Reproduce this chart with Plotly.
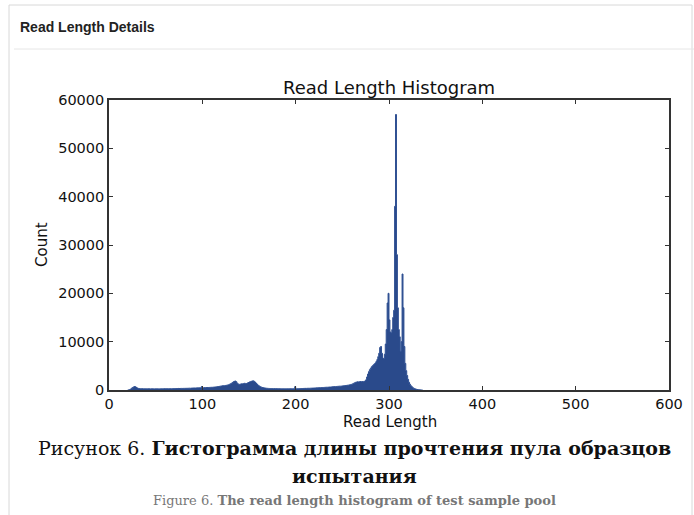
import plotly.graph_objects as go

# ---- data ----
length_start = 20  # first bin (read length) shown, bins of width 1
counts_020_099 = [
    0, 40, 110, 220, 380, 520, 640, 720, 660, 520,
    400, 330, 300, 280, 270, 290, 260, 250, 270, 260,
    250, 240, 260, 250, 230, 240, 250, 240, 230, 250,
    240, 260, 250, 230, 240, 250, 260, 240, 250, 270,
    260, 270, 280, 260, 270, 290, 280, 270, 290, 300,
    290, 300, 310, 300, 320, 310, 320, 330, 320, 340,
    330, 350, 340, 360, 350, 370, 380, 360, 390, 400,
    410, 420, 400, 430, 450, 440, 460, 480, 470, 720,
]
counts_100_199 = [
    480, 470, 500, 490, 510, 520, 500, 530, 540, 560,
    550, 580, 600, 620, 640, 660, 700, 720, 760, 800,
    820, 860, 900, 880, 920, 960, 1000, 1050, 1100, 1200,
    1300, 1400, 1550, 1700, 1800, 1850, 1700, 1400, 1250, 1150,
    1200, 1250, 1300, 1250, 1350, 1400, 1300, 1350, 1450, 1550,
    1650, 1700, 1800, 1850, 1900, 1800, 1650, 1450, 1250, 1050,
    900, 760, 650, 580, 520, 470, 430, 400, 370, 350,
    330, 320, 300, 310, 290, 300, 280, 290, 270, 280,
    270, 260, 280, 270, 260, 250, 270, 260, 250, 260,
    250, 260, 240, 250, 260, 250, 240, 260, 250, 700,
]
counts_200_279 = [
    280, 270, 290, 280, 300, 290, 310, 300, 320, 330,
    340, 330, 350, 360, 350, 370, 380, 390, 400, 410,
    420, 430, 450, 440, 460, 480, 470, 500, 520, 510,
    530, 550, 560, 580, 570, 600, 620, 610, 640, 660,
    680, 700, 690, 720, 740, 760, 780, 800, 790, 820,
    850, 880, 900, 920, 950, 980, 1000, 1050, 1100, 1150,
    1200, 1300, 1400, 1500, 1600, 1650, 1700, 1650, 1700, 1750,
    1700, 1750, 1700, 1800, 1850, 2100, 2700, 3300, 3800, 4200,
]
counts_280_335 = [
    4500, 4800, 5000, 5200, 5400, 5600, 5900, 6300, 6900, 7600,
    8800, 9000, 7600, 6600, 6400, 7400, 9500, 12500, 18000, 20000,
    14500, 12000, 11800, 12500, 15000, 16500, 38000, 57000, 28000, 17000,
    12500, 11000, 8000, 10000, 24000, 17000, 9000, 5500, 4000, 3000,
    2200, 1600, 1200, 900, 700, 500, 380, 280, 200, 150,
    100, 70, 50, 30, 15, 5,
]
x_ticks = [0, 100, 200, 300, 400, 500, 600]
y_ticks = [0, 10000, 20000, 30000, 40000, 50000, 60000]

counts = counts_020_099 + counts_100_199 + counts_200_279 + counts_280_335
lengths = list(range(length_start, length_start + len(counts)))
# step outline: close the last bin at its right edge
xs = lengths + [lengths[-1] + 1]
ys = counts + [0]

# ---- geometry ----
W, H = 694, 515
L, R, T, B = 109, 669, 100, 390


def px(x):
    return (x - L) / (R - L)


def py(y):
    return (B - y) / (B - T)


fig = go.Figure()
fig.add_trace(go.Scatter(
    x=xs, y=ys, mode="lines", line=dict(shape="hv", color="#2f5093", width=1),
    fill="tozeroy", fillcolor="#2a4a8b", hoverinfo="skip", showlegend=False,
))

axis_common = dict(
    showline=True, linecolor="#333333", linewidth=1.6, mirror="ticks",
    ticks="inside", ticklen=4, tickwidth=1, tickcolor="#333333",
    showgrid=False, zeroline=False,
    tickfont=dict(family="DejaVu Sans", size=14.5, color="#111111"),
)
fig.update_xaxes(range=[0, 600], tickvals=x_ticks, ticktext=[str(v) for v in x_ticks], **axis_common)
fig.update_yaxes(range=[0, 60000], tickvals=y_ticks, ticktext=[str(v) for v in y_ticks], **axis_common)

ann = []
ann.append(dict(text="Read Length Histogram", x=px(389), y=py(87), xref="paper", yref="paper",
                showarrow=False, font=dict(family="DejaVu Sans", size=18, color="#111111"),
                xanchor="center", yanchor="middle"))
ann.append(dict(text="Read Length", x=px(390), y=py(422), xref="paper", yref="paper",
                showarrow=False, font=dict(family="DejaVu Sans", size=15, color="#111111"),
                xanchor="center", yanchor="middle"))
ann.append(dict(text="Count", x=px(42), y=py(245), xref="paper", yref="paper", textangle=-90,
                showarrow=False, font=dict(family="DejaVu Sans", size=15, color="#111111"),
                xanchor="center", yanchor="middle"))
ann.append(dict(text="<b>Read Length Details</b>", x=px(18), y=py(27), xref="paper", yref="paper",
                showarrow=False, font=dict(family="Liberation Sans", size=14, color="#222222"),
                xanchor="left", yanchor="middle"))
ann.append(dict(text="Рисунок 6. <b>Гистограмма длины прочтения пула образцов</b>",
                x=px(354), y=py(448), xref="paper", yref="paper", showarrow=False,
                font=dict(family="DejaVu Serif", size=19, color="#111111"),
                xanchor="center", yanchor="middle"))
ann.append(dict(text="<b>испытания</b>",
                x=px(354), y=py(476), xref="paper", yref="paper", showarrow=False,
                font=dict(family="DejaVu Serif", size=19, color="#111111"),
                xanchor="center", yanchor="middle"))
ann.append(dict(text="Figure 6. <b>The read length histogram of test sample pool</b>",
                x=px(354), y=py(500), xref="paper", yref="paper", showarrow=False,
                font=dict(family="DejaVu Serif", size=13, color="#777777"),
                xanchor="center", yanchor="middle"))

shapes = [
    dict(type="line", xref="paper", yref="paper", x0=px(9), x1=px(9), y0=py(5), y1=py(515),
         line=dict(color="#d8d8d8", width=1)),
    dict(type="line", xref="paper", yref="paper", x0=px(692), x1=px(692), y0=py(5), y1=py(515),
         line=dict(color="#d8d8d8", width=1)),
    dict(type="line", xref="paper", yref="paper", x0=px(9), x1=px(692), y0=py(5), y1=py(5),
         line=dict(color="#d8d8d8", width=1)),
    dict(type="line", xref="paper", yref="paper", x0=px(14), x1=px(694), y0=py(49), y1=py(49),
         line=dict(color="#e6e6e6", width=1)),
]

fig.update_layout(
    width=W, height=H, autosize=False,
    margin=dict(l=L, r=W - R, t=T, b=H - B, pad=0),
    paper_bgcolor="white", plot_bgcolor="white",
    annotations=ann, shapes=shapes,
)

fig.write_html("out.html")
